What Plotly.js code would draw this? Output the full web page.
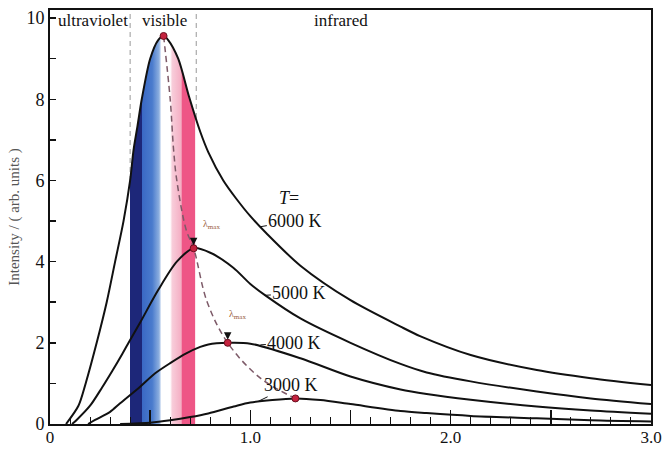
<!DOCTYPE html>
<html>
<head>
<meta charset="utf-8">
<script src="https://cdn.plot.ly/plotly-3.0.1.min.js"></script>
<style>html,body{margin:0;padding:0;background:#fff;}#chart{width:665px;height:450px;}</style>
</head>
<body>
<div id="chart"></div>
<script>
// Wavelength (micrometres) and intensity (arb. units)
var x6000 = [0.08, 0.142, 0.178, 0.233, 0.283, 0.325, 0.367, 0.40, 0.417, 0.437, 0.458, 0.50, 0.54, 0.567, 0.59, 0.64, 0.695, 0.75, 0.79, 0.865, 0.93, 1.0, 1.08, 1.25, 1.5, 1.75, 1.85, 2.1, 2.43, 2.7, 3.0];
var y6000 = [0, 0.45, 1.0, 2.0, 3.0, 4.0, 5.0, 6.0, 6.75, 7.35, 8.0, 9.0, 9.46, 9.56, 9.46, 9.0, 8.05, 7.2, 6.7, 6.0, 5.55, 5.12, 4.7, 3.9, 3.05, 2.4, 2.16, 1.7, 1.33, 1.13, 0.96];

var x5000 = [0.11, 0.133, 0.2, 0.26, 0.31, 0.36, 0.40, 0.45, 0.54, 0.633, 0.717, 0.8, 0.915, 1.0, 1.08, 1.25, 1.5, 1.75, 1.88, 2.1, 2.43, 2.7, 3.0];
var y5000 = [0, 0.1, 0.45, 0.9, 1.3, 1.72, 2.07, 2.5, 3.3, 4.0, 4.33, 4.22, 3.85, 3.45, 3.15, 2.6, 2.0, 1.48, 1.27, 1.05, 0.8, 0.63, 0.49];

var x4000 = [0.19, 0.225, 0.3, 0.35, 0.45, 0.525, 0.6, 0.68, 0.75, 0.79, 0.887, 1.0, 1.25, 1.5, 1.75, 1.88, 2.1, 2.43, 2.7, 3.0];
var y4000 = [0, 0.1, 0.3, 0.51, 0.92, 1.25, 1.5, 1.74, 1.9, 1.96, 2.0, 1.98, 1.62, 1.17, 0.85, 0.74, 0.6, 0.43, 0.33, 0.25];

var x3000 = [0.35, 0.5, 0.6, 0.7, 0.79, 0.917, 1.0, 1.225, 1.35, 1.5, 1.75, 1.88, 2.1, 2.43, 2.7, 3.0];
var y3000 = [0, 0.03, 0.09, 0.17, 0.26, 0.43, 0.53, 0.63, 0.59, 0.49, 0.32, 0.27, 0.2, 0.14, 0.09, 0.06];

// Peak positions (lambda max) and the dashed locus through them
var peakX = [0.567, 0.717, 0.887, 1.225];
var peakY = [9.56, 4.33, 2.0, 0.63];
var locusX = [0.567, 0.60, 0.617, 0.633, 0.68, 0.717, 0.785, 0.887, 1.05, 1.225];
var locusY = [9.56, 8.0, 6.75, 6.0, 4.78, 4.33, 3.0, 2.0, 1.13, 0.63];

// Region boundaries and labels
var regionBounds = [0.40, 0.73];
var regionLabels = ['ultraviolet', 'visible', 'infrared'];
var regionLabelX = [0.215, 0.574, 1.453];

// Visible spectrum colour stops (wavelength, colour)
var specX = [0.40, 0.458, 0.459, 0.51, 0.545, 0.556, 0.60, 0.61, 0.655, 0.66, 0.725];
var specC = ['#1d2779', '#1d2779', '#3a68c4', '#4a7bcd', '#8eb0e0', '#ffffff', '#ffffff', '#f8cdda', '#f4aec3', '#ee5686', '#ee5686'];

var tempLabels = ['6000 K', '5000 K', '4000 K', '3000 K'];

var xMax = 3.0;
var cs = [[0, '#ffffff'], [specX[0] / xMax - 0.0005, '#ffffff']];
for (var i = 0; i < specX.length; i++) cs.push([specX[i] / xMax, specC[i]]);
cs.push([specX[specX.length - 1] / xMax + 0.0005, '#ffffff']);
cs.push([1, '#ffffff']);

var serif = 'Liberation Serif, Times New Roman, serif';
var lineStyle = {color: '#111', width: 2, shape: 'spline', smoothing: 0.8};

var traces = [
  {x: x6000, y: y6000, mode: 'lines', line: lineStyle, fill: 'tozeroy',
   fillgradient: {type: 'horizontal', colorscale: cs, start: 0, stop: xMax}, hoverinfo: 'skip'},
  {x: x5000, y: y5000, mode: 'lines', line: lineStyle, hoverinfo: 'skip'},
  {x: x4000, y: y4000, mode: 'lines', line: lineStyle, hoverinfo: 'skip'},
  {x: x3000, y: y3000, mode: 'lines', line: lineStyle, hoverinfo: 'skip'},
  {x: locusX, y: locusY, mode: 'lines', line: {color: '#7d5a68', width: 1.5, dash: '6px,4px', shape: 'spline'}, hoverinfo: 'skip'},
  {x: peakX, y: peakY, mode: 'markers', marker: {size: 7, color: '#c4233f', line: {color: '#6a1020', width: 1}}, hoverinfo: 'skip'}
];

var shapes = regionBounds.map(function (b) {
  return {type: 'line', xref: 'x', yref: 'paper', x0: b, x1: b, y0: 0, y1: 1, layer: 'below',
          line: {color: '#999', width: 1, dash: '5px,4px'}};
});

var annotations = [];
for (var r = 0; r < regionLabels.length; r++) {
  annotations.push({x: regionLabelX[r], y: 9.95, text: regionLabels[r], showarrow: false,
    font: {family: serif, size: 17, color: '#111'}, xanchor: 'center', yanchor: 'middle'});
}
annotations.push({x: 1.193, y: 5.58, text: '<i>T</i>=', showarrow: false, font: {family: serif, size: 18, color: '#111'}});
var tipX = [1.05, 1.07, 1.05, 1.04];
var tipY = [4.86, 3.17, 1.95, 0.56];
var offX = [35, 35, 34, 33];
var offY = [-6, -2, -2, -16];
for (var k = 0; k < tempLabels.length; k++) {
  annotations.push({x: tipX[k], y: tipY[k], text: tempLabels[k], showarrow: true, arrowhead: 0,
    arrowwidth: 1, arrowcolor: '#111', ax: offX[k], ay: offY[k], standoff: 0,
    font: {family: serif, size: 18, color: '#111'}});
}
// lambda max labels and arrows
annotations.push({x: 0.804, y: 4.91, text: 'λ<sub>max</sub>', showarrow: false, font: {family: serif, size: 10, color: '#9a6040'}});
annotations.push({x: 0.936, y: 2.71, text: 'λ<sub>max</sub>', showarrow: false, font: {family: serif, size: 10, color: '#9a6040'}});
annotations.push({x: peakX[1], y: peakY[1], text: ' ', showarrow: true, arrowhead: 2, arrowsize: 1, arrowwidth: 1.5,
  arrowcolor: '#111', ax: 0, ay: -16, standoff: 3});
annotations.push({x: peakX[2], y: peakY[2], text: ' ', showarrow: true, arrowhead: 2, arrowsize: 1, arrowwidth: 1.5,
  arrowcolor: '#111', ax: 0, ay: -16, standoff: 3});

var layout = {
  width: 665, height: 450,
  margin: {l: 50, r: 14, t: 10, b: 26},
  paper_bgcolor: '#fff', plot_bgcolor: '#fff',
  showlegend: false,
  font: {family: serif, size: 16, color: '#111'},
  xaxis: {
    range: [0, xMax], showgrid: false, zeroline: false,
    showline: true, linecolor: '#111', linewidth: 2, mirror: true,
    tickmode: 'array', tickvals: [0, 0.5, 1.0, 1.5, 2.0, 2.5, 3.0],
    ticktext: ['0', '', '1.0', '', '2.0', '', '3.0'],
    ticks: 'inside', ticklen: 14, tickwidth: 1.5, tickcolor: '#111',
    ticklabelstandoff: -3,
    minor: {tickmode: 'linear', tick0: 0, dtick: 0.1, ticks: 'inside', ticklen: 7, tickwidth: 1, tickcolor: '#111'},
    tickfont: {family: serif, size: 17, color: '#111'}
  },
  yaxis: {
    range: [0, 10.2], showgrid: false, zeroline: false,
    showline: true, linecolor: '#111', linewidth: 2, mirror: true,
    tickmode: 'array', tickvals: [0, 1, 2, 3, 4, 5, 6, 7, 8, 9, 10],
    ticktext: ['0', '', '2', '', '4', '', '6', '', '8', '', '10'],
    ticks: 'inside', ticklen: 6, tickwidth: 1.5, tickcolor: '#111',
    tickfont: {family: serif, size: 18, color: '#111'},
    title: {text: 'Intensity / ( arb. units )', font: {family: serif, size: 15, color: '#555'}, standoff: 3}
  },
  shapes: shapes,
  annotations: annotations
};

Plotly.newPlot('chart', traces, layout, {displayModeBar: false, staticPlot: true});
</script>
</body>
</html>
